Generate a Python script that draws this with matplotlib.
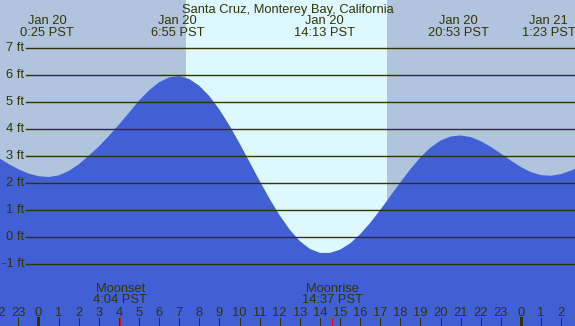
import matplotlib
matplotlib.use("Agg")
import matplotlib.pyplot as plt
from matplotlib.transforms import blended_transform_factory

plt.rcParams['font.family'] = ['Liberation Sans', 'DejaVu Sans']

# ---- data (hours relative to Jan 20 0:00 PST) ----
hours = [-2.0, -1.5, -1.0, -0.5, 0.0, 0.5, 1.0, 1.5, 2.0, 2.5, 3.0, 3.5, 4.0, 4.5,
         5.0, 5.5, 6.0, 6.5, 7.0, 7.5, 8.0, 8.5, 9.0, 9.5, 10.0, 10.5, 11.0, 11.5,
         12.0, 12.5, 13.0, 13.5, 14.0, 14.5, 15.0, 15.5, 16.0, 16.5, 17.0, 17.5,
         18.0, 18.5, 19.0, 19.5, 20.0, 20.5, 21.0, 21.5, 22.0, 22.5, 23.0, 23.5,
         24.0, 24.5, 25.0, 25.5, 26.0, 26.5, 27.0]
heights_ft = [2.93, 2.70, 2.50, 2.34, 2.24, 2.21, 2.27, 2.43, 2.68, 3.00, 3.34, 3.73,
              4.15, 4.59, 5.04, 5.42, 5.72, 5.90, 5.95, 5.84, 5.59, 5.21, 4.71, 4.12,
              3.46, 2.77, 2.07, 1.40, 0.79, 0.26, -0.16, -0.45, -0.60, -0.60, -0.48,
              -0.25, 0.09, 0.51, 0.99, 1.50, 2.01, 2.50, 2.94, 3.30, 3.56, 3.71, 3.75,
              3.69, 3.54, 3.33, 3.08, 2.82, 2.58, 2.39, 2.28, 2.26, 2.32, 2.45, 2.62]

extreme_hours = [0.417, 6.917, 14.217, 20.883, 25.383]
extreme_dates = ['Jan 20', 'Jan 20', 'Jan 20', 'Jan 20', 'Jan 21']
extreme_times = ['0:25 PST', '6:55 PST', '14:13 PST', '20:53 PST', '1:23 PST']

moon_hours = [4.067, 14.617]
moon_names = ['Moonset', 'Moonrise']
moon_times = ['4:04 PST', '14:37 PST']

sunrise_h = 7.34
sunset_h = 17.34

ft_levels = [-1, 0, 1, 2, 3, 4, 5, 6, 7]
ft_labels = ['-1 ft', '0 ft', '1 ft', '2 ft', '3 ft', '4 ft', '5 ft', '6 ft', '7 ft']

hour_ticks = list(range(-2, 27))
hour_labels = [str(h % 24) for h in hour_ticks]
midnights = [0, 24]

title = 'Santa Cruz, Monterey Bay, California'

# ---- styling ----
NIGHT = '#B0C4DE'
DAY = '#DDF8FF'
WATER = '#4160D5'
INK = '#333300'
W, H = 575, 326
FS = 9.3

fig = plt.figure(figsize=(W / 100, H / 100), dpi=100)
ax = fig.add_axes([0, 0, 1, 1])
ax.set_xlim(-1.915, 26.69)
ax.set_ylim(-3.307, 8.767)
ax.set_facecolor(NIGHT)
for s in ax.spines.values():
    s.set_visible(False)
ax.set_xticks([])
ax.set_yticks([])

ax.axvspan(sunrise_h, sunset_h, color=DAY, zorder=0, lw=0)
ax.fill_between(hours, heights_ft, -10, color=WATER, lw=0, zorder=1)

for lv, lb in zip(ft_levels, ft_labels):
    ax.axhline(lv, xmin=26 / W, xmax=1, color=INK, lw=1.0, zorder=2)
    ax.text(24 / W, lv, lb, transform=blended_transform_factory(ax.transAxes, ax.transData),
            ha='right', va='center', fontsize=FS, color=INK, zorder=3)

tx = blended_transform_factory(ax.transData, ax.transAxes)

# title
ax.text(0.5, 1 - 12.5 / H, title, transform=ax.transAxes, ha='center', va='baseline',
        fontsize=FS, color=INK, zorder=3)

# extreme labels
for h, d, t in zip(extreme_hours, extreme_dates, extreme_times):
    ax.text(h, 1 - 24.5 / H, d, transform=tx, ha='center', va='baseline', fontsize=FS,
            color=INK, zorder=3)
    ax.text(h, 1 - 35.5 / H, t, transform=tx, ha='center', va='baseline', fontsize=FS,
            color=INK, zorder=3)

# hour ticks & labels
for h, lb in zip(hour_ticks, hour_labels):
    ax.text(h, 1 - 315.5 / H, lb, transform=tx, ha='center', va='baseline', fontsize=FS,
            color=INK, zorder=3)
    lw = 3.0 if h in midnights else 1.0
    ax.axvline(h, ymin=0, ymax=8 / H, color=INK, lw=lw * 0.72, zorder=3)

# moon events
for h, n, t in zip(moon_hours, moon_names, moon_times):
    ax.text(h, 1 - 291.5 / H, n, transform=tx, ha='center', va='baseline', fontsize=FS,
            color=INK, zorder=3)
    ax.text(h, 1 - 303 / H, t, transform=tx, ha='center', va='baseline', fontsize=FS,
            color=INK, zorder=3)
    ax.axvline(h, ymin=0, ymax=8 / H, color='#FF0000', lw=0.72, zorder=3)

fig.savefig('out.png', dpi=100)
